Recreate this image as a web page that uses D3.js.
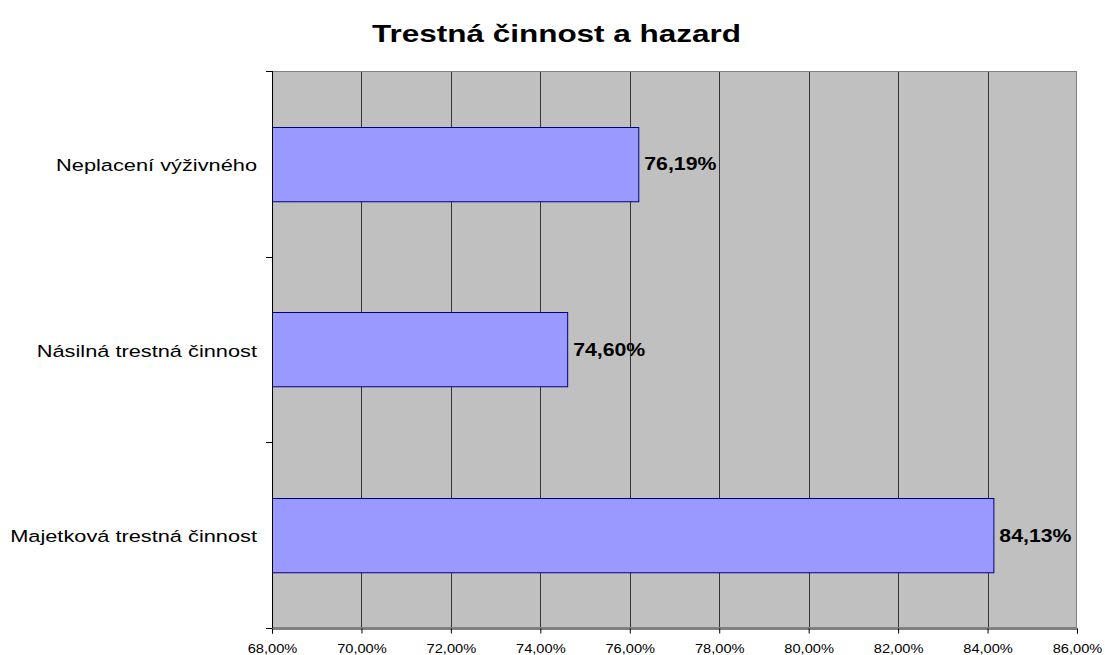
<!DOCTYPE html>
<html lang="cs">
<head>
<meta charset="utf-8">
<title>Trestná činnost a hazard</title>
<script src="https://d3js.org/d3.v7.min.js"></script>
<style>
  body { margin: 0; background: #fff; }
  text { font-family: "Liberation Sans", Arial, sans-serif; }
</style>
</head>
<body>
<script>
// data (top to bottom)
var categories = ["Neplacení výživného", "Násilná trestná činnost", "Majetková trestná činnost"];
var values = [76.19, 74.60, 84.13];
var valueLabels = ["76,19%", "74,60%", "84,13%"];
var xTicks = [68, 70, 72, 74, 76, 78, 80, 82, 84, 86];

var W = 1105, H = 655;
var plot = { left: 272, right: 1077, top: 71, bottom: 628 };

var svg = d3.select("body").append("svg")
  .attr("width", W).attr("height", H);

var x = d3.scaleLinear().domain([68, 86]).range([plot.left, plot.right]);
var y = d3.scaleBand().domain(categories).range([plot.top, plot.bottom])
  .paddingInner(0.6).paddingOuter(0.3);

// text in the source is a bit wider than normal, so stretch horizontally
function wide(sel, sx) {
  return function(px, py) { return "translate(" + px + "," + py + ") scale(" + sx + ",1)"; };
}

// background
svg.append("rect")
  .attr("x", plot.left).attr("y", plot.top)
  .attr("width", plot.right - plot.left).attr("height", plot.bottom - plot.top)
  .attr("fill", "#c0c0c0");

// gridlines
svg.selectAll("line.grid").data(xTicks.slice(1, -1)).enter()
  .append("line").attr("class", "grid")
  .attr("x1", function(d) { return Math.round(x(d)) + 0.5; })
  .attr("x2", function(d) { return Math.round(x(d)) + 0.5; })
  .attr("y1", plot.top).attr("y2", plot.bottom)
  .attr("stroke", "#333").attr("stroke-width", 1);

// border
svg.append("rect")
  .attr("x", plot.left + 0.5).attr("y", plot.top + 0.5)
  .attr("width", plot.right - plot.left - 1).attr("height", plot.bottom - plot.top - 1)
  .attr("fill", "none").attr("stroke", "#808080").attr("stroke-width", 1);

// bars
svg.selectAll("rect.bar").data(values).enter()
  .append("rect").attr("class", "bar")
  .attr("x", plot.left + 0.5)
  .attr("y", function(d, i) { return Math.round(y(categories[i])) + 0.5; })
  .attr("width", function(d) { return x(d) - plot.left; })
  .attr("height", y.bandwidth())
  .attr("fill", "#9999ff")
  .attr("stroke", "#000080").attr("stroke-width", 1);

// value labels
var tVal = wide(null, 1.15);
svg.selectAll("text.val").data(values).enter()
  .append("text").attr("class", "val")
  .attr("transform", function(d, i) {
    return tVal(x(d) + 6, y(categories[i]) + y.bandwidth() / 2);
  })
  .attr("dy", "0.35em")
  .attr("font-size", 18.5).attr("font-weight", "bold").attr("fill", "#000")
  .text(function(d, i) { return valueLabels[i]; });

// x axis
var xAxis = d3.axisBottom(x).tickValues(xTicks).tickSize(5).tickPadding(8)
  .tickFormat(function(d) { return d3.format(".2f")(d).replace(".", ",") + "%"; });
var gx = svg.append("g").attr("transform", "translate(0," + (plot.bottom + 0.5) + ")").call(xAxis);
gx.select(".domain").attr("stroke", "#000");
gx.selectAll(".tick line").attr("stroke", "#000");
gx.selectAll("text")
  .attr("y", 0).attr("dy", 0)
  .attr("transform", "translate(0,24.5) scale(1.22,1)")
  .attr("font-size", 12).attr("fill", "#000")
  .style("font-family", "'Liberation Sans', Arial, sans-serif");

// y axis (ticks between categories)
var yEdges = d3.range(categories.length + 1).map(function(i) {
  return plot.top + i * (plot.bottom - plot.top) / categories.length;
});
svg.append("line")
  .attr("x1", plot.left + 0.5).attr("x2", plot.left + 0.5)
  .attr("y1", plot.top).attr("y2", plot.bottom)
  .attr("stroke", "#000");
svg.selectAll("line.ytick").data(yEdges).enter()
  .append("line").attr("class", "ytick")
  .attr("x1", plot.left - 6).attr("x2", plot.left)
  .attr("y1", function(d) { return Math.round(d) + 0.5; })
  .attr("y2", function(d) { return Math.round(d) + 0.5; })
  .attr("stroke", "#000");

var tCat = wide(null, 1.32);
svg.selectAll("text.cat").data(categories).enter()
  .append("text").attr("class", "cat")
  .attr("transform", function(d) { return tCat(plot.left - 15, y(d) + y.bandwidth() / 2 + 1.5); })
  .attr("dy", "0.35em")
  .attr("text-anchor", "end")
  .attr("font-size", 16.5).attr("fill", "#000")
  .text(function(d) { return d; });

// title
svg.append("text")
  .attr("transform", "translate(556.5,41.5) scale(1.34,1)")
  .attr("text-anchor", "middle")
  .attr("font-size", 23.5).attr("font-weight", "bold")
  .text("Trestná činnost a hazard");
</script>
</body>
</html>
